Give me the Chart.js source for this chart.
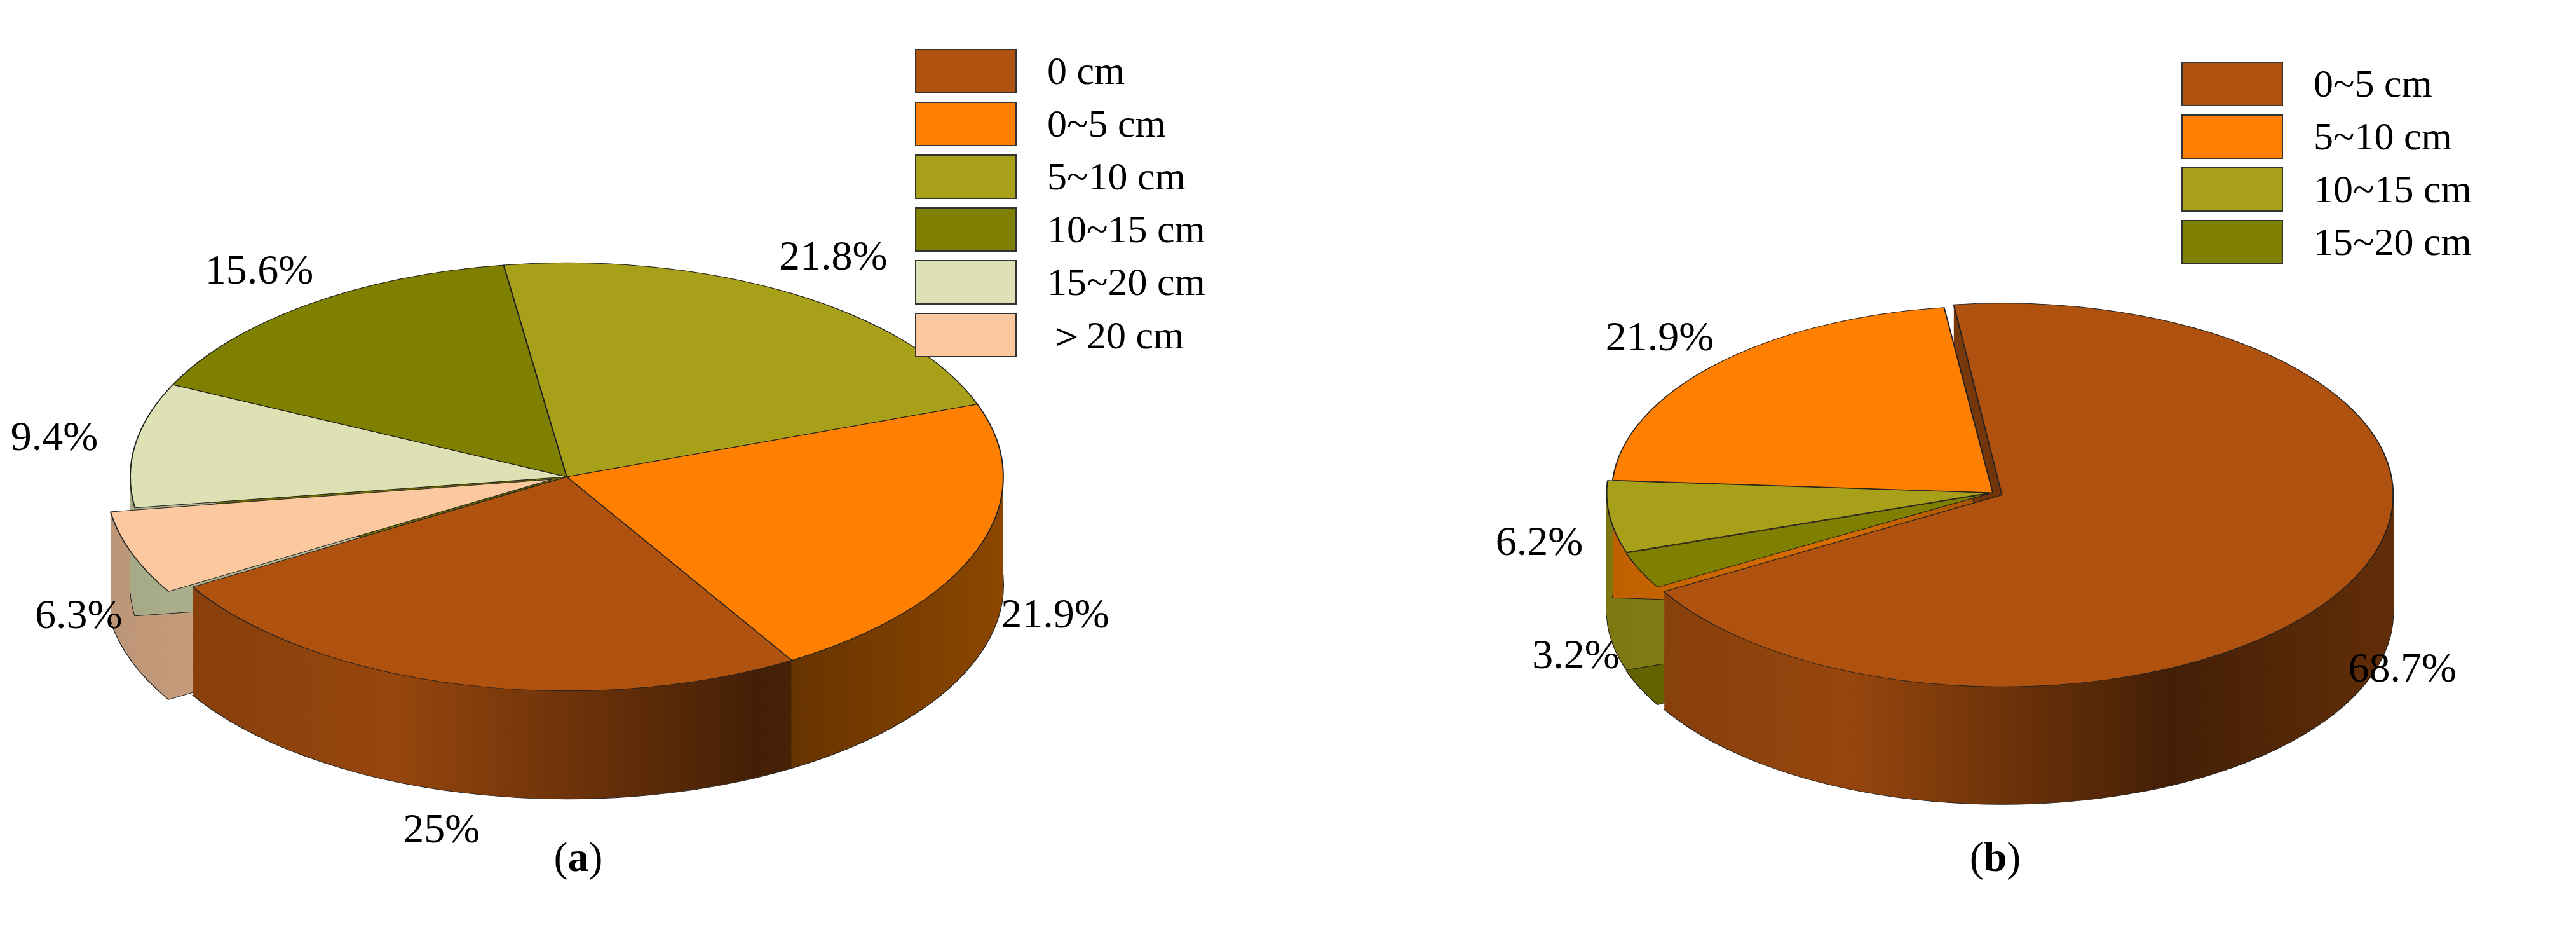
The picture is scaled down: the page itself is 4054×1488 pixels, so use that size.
<!DOCTYPE html>
<html><head><meta charset="utf-8">
<script src="https://cdn.jsdelivr.net/npm/chart.js@4"></script>
<style>
html,body{margin:0;width:4054px;height:1488px;background:#fff;overflow:hidden;position:relative;font-family:"Liberation Serif",serif}
.cv{position:absolute}
.leg{position:absolute;font-size:62px;color:#000}
.leg div{display:flex;align-items:center;height:83px}
.leg i{display:inline-block;width:160px;height:70px;border:2px solid #333;margin-right:48px;box-sizing:border-box}
.cap{position:absolute;font-size:66px;transform:translateX(-50%)}
</style></head><body>
<div class="cv" style="left:-216px;top:12px;width:2216px;height:1476px"><canvas id="ca"></canvas></div>
<div class="cv" style="left:1936px;top:142px;width:2400px;height:1266px"><canvas id="cb"></canvas></div>
<div class="leg" id="lega" style="left:1440px;top:70px"></div>
<div class="leg" id="legb" style="left:3433px;top:90px"></div>
<div class="cap" style="left:910px;top:1310px">(<b>a</b>)</div>
<div class="cap" style="left:3140px;top:1310px">(<b>b</b>)</div>
<script>
// (a)
const labelsA = ["0 cm","0~5 cm","5~10 cm","10~15 cm","15~20 cm","＞20 cm"];
const valuesA = [25, 21.9, 21.8, 15.6, 9.4, 6.3];
const colorsA = ["#B0520F","#FF8000","#A8A019","#808000","#DDE1B3","#FCC89F"];
const explodeA = [0, 0, 0, 0, 0, 100];
// (b)
const labelsB = ["0~5 cm","5~10 cm","10~15 cm","15~20 cm"];
const valuesB = [68.7, 21.9, 6.2, 3.2];
const colorsB = ["#B0520F","#FF8000","#A8A019","#808000"];
const explodeB = [65, 0, 20, 20];

const K = 0.49; // vertical squash
const shade = (hex, f) => { const n = parseInt(hex.slice(1),16);
  return `rgb(${Math.round((n>>16)*f)},${Math.round(((n>>8)&255)*f)},${Math.round((n&255)*f)})`; };

function pie3d(depth){
  return {
    id:"pie3d",
    beforeDatasetsDraw(chart){
      const ctx = chart.ctx, a = chart.chartArea, cy = (a.top+a.bottom)/2;
      ctx.save();
      ctx.translate(0, cy); ctx.scale(1, K); ctx.translate(0, -cy);
      const meta = chart.getDatasetMeta(0);
      const cols = chart.data.datasets[0].backgroundColor;
      const D = depth / K;
      meta.data.forEach((el, i) => {
        const o = el.options, bg = o.backgroundColor, bc = o.borderColor, bw = o.borderWidth;
        const g = ctx.createLinearGradient(el.x - el.outerRadius, 0, el.x + el.outerRadius, 0);
        g.addColorStop(0, shade(cols[i], 0.75)); g.addColorStop(0.3, shade(cols[i], 0.85));
        g.addColorStop(0.72, shade(cols[i], 0.38)); g.addColorStop(1, shade(cols[i], 0.55));
        o.backgroundColor = g; o.borderWidth = 0;
        for (let d = D; d > 0; d -= 2){
          ctx.save(); ctx.translate(0, d);
          if (d === D){ o.borderWidth = 2; o.borderColor = "#222"; }
          el.draw(ctx);
          o.borderWidth = 0;
          ctx.restore();
        }
        o.backgroundColor = bg; o.borderColor = bc; o.borderWidth = bw;
      });
    },
    afterDatasetsDraw(chart){
      const ctx = chart.ctx; ctx.restore();
      const a = chart.chartArea, cy = (a.top+a.bottom)/2;
      const vals = chart.data.datasets[0].data;
      ctx.save();
      ctx.font = "66px 'Liberation Serif'"; ctx.fillStyle = "#000";
      ctx.textAlign = "center"; ctx.textBaseline = "middle";
      chart.getDatasetMeta(0).data.forEach((el, i) => {
        const m = (el.startAngle + el.endAngle)/2, R = el.outerRadius*1.1 + 60;
        const s = Math.sin(m);
        const x = el.x + Math.cos(m)*R;
        const y = cy + (el.y - cy + s*R)*K + (s > 0 ? depth*Math.min(1, s*1.5) : 0);
        ctx.fillText(vals[i] + "%", x, y);
      });
      ctx.restore();
    }
  };
}

function make(id, labels, values, colors, explode, rotation, depth, legId){
  // slices run clockwise in reversed legend order
  const L = [...labels].reverse(), V = [...values].reverse(), C = [...colors].reverse(), E = [...explode].reverse();
  new Chart(document.getElementById(id), {
    type:"pie",
    data:{labels:L, datasets:[{data:V, backgroundColor:C, borderColor:"#222", borderWidth:2, offset:E}]},
    options:{responsive:true, maintainAspectRatio:false, animation:false, events:[], rotation,
      layout:{padding:0}, plugins:{legend:{display:false}, tooltip:{enabled:false}}},
    plugins:[pie3d(depth)]
  });
  document.getElementById(legId).innerHTML = labels.map((l, i) =>
    `<div><i style="background:${colors[i]}"></i>${l}</div>`).join("");
}
make("ca", labelsA, valuesA, colorsA, explodeA, 239, 170, "lega");
make("cb", labelsB, valuesB, colorsB, explodeB, 240, 185, "legb");
</script></body></html>
